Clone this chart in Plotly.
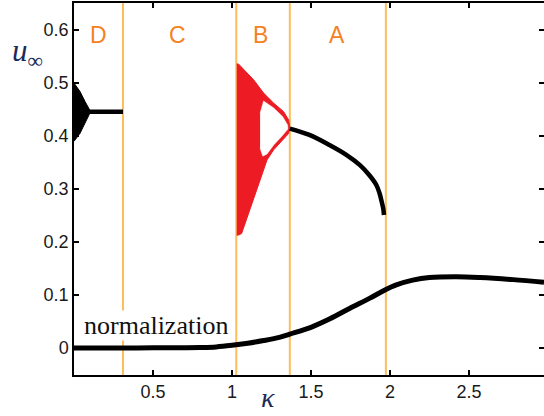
import plotly.graph_objects as go

# ---- data ----
# normalization curve (lower black curve)
norm_x = [0.0, 0.2, 0.4, 0.6, 0.8, 0.9, 1.0, 1.1, 1.2, 1.3, 1.366, 1.5, 1.62, 1.747, 1.873,
          1.965, 2.04, 2.144, 2.25, 2.42, 2.57, 2.78, 2.975]
norm_y = [0.0, 0.0, 0.0, 0.0005, 0.001, 0.002, 0.005, 0.009, 0.014, 0.020, 0.026, 0.039, 0.055,
          0.075, 0.094, 0.109, 0.119, 0.128, 0.133, 0.1345, 0.133, 0.129, 0.124]

# region D: oscillation envelope that collapses into a fixed point
d_env_x = [0.0, 0.038, 0.07, 0.097, 0.105, 0.097, 0.07, 0.038, 0.0]
d_env_y = [0.50, 0.484, 0.465, 0.450, 0.446, 0.441, 0.424, 0.405, 0.39]
d_fixed_x = [0.10, 0.31]
d_fixed_y = [0.446, 0.446]

# region B: chaotic band (red) outer boundary
b_outer_x = [1.03, 1.041, 1.137, 1.2, 1.264, 1.327, 1.359, 1.366, 1.359, 1.317, 1.264,
             1.222, 1.19, 1.158, 1.11, 1.061, 1.041, 1.03]
b_outer_y = [0.536, 0.536, 0.506, 0.481, 0.462, 0.446, 0.430, 0.415, 0.405, 0.392, 0.374,
             0.355, 0.328, 0.300, 0.258, 0.216, 0.213, 0.213]
# region B: empty window inside the band
b_hole_x = [1.178, 1.2, 1.264, 1.32, 1.352, 1.354, 1.317, 1.264, 1.222, 1.195, 1.178]
b_hole_y = [0.443, 0.466, 0.453, 0.437, 0.421, 0.413, 0.400, 0.383, 0.366, 0.362, 0.377]

# region A: stable branch
a_x = [1.366, 1.49, 1.617, 1.726, 1.81, 1.87, 1.913, 1.934, 1.95, 1.958, 1.962]
a_y = [0.414, 0.402, 0.383, 0.364, 0.345, 0.326, 0.308, 0.292, 0.273, 0.262, 0.251]

# region boundaries and labels
bounds = [0.31, 1.027, 1.366, 1.974]
region_labels = ["D", "C", "B", "A"]
region_label_x = [0.158, 0.658, 1.18, 1.665]

x_ticks = [0.5, 1.0, 1.5, 2.0, 2.5]
x_tick_text = ["0.5", "1", "1.5", "2", "2.5"]
y_ticks = [0.0, 0.1, 0.2, 0.3, 0.4, 0.5, 0.6]
y_tick_text = ["0", "0.1", "0.2", "0.3", "0.4", "0.5", "0.6"]

X_RANGE = [0.0, 2.975]
Y_RANGE = [-0.051, 0.651]

ORANGE_LINE = "#FDBE5A"
ORANGE_TEXT = "#F5821F"
NAVY = "#1B2A57"
RED = "#ED1C24"

fig = go.Figure()

# region D
fig.add_trace(go.Scatter(x=d_env_x, y=d_env_y, fill="toself", fillcolor="black",
                         mode="lines", line=dict(color="black", width=1),
                         hoverinfo="skip", showlegend=False))
fig.add_trace(go.Scatter(x=d_fixed_x, y=d_fixed_y, mode="lines",
                         line=dict(color="black", width=4.5),
                         hoverinfo="skip", showlegend=False))
# region B
fig.add_trace(go.Scatter(x=b_outer_x, y=b_outer_y, fill="toself", fillcolor=RED,
                         mode="lines", line=dict(color=RED, width=1),
                         hoverinfo="skip", showlegend=False))
fig.add_trace(go.Scatter(x=b_hole_x, y=b_hole_y, fill="toself", fillcolor="white",
                         mode="lines", line=dict(color="white", width=0.5),
                         hoverinfo="skip", showlegend=False))
# region A
fig.add_trace(go.Scatter(x=a_x, y=a_y, mode="lines", line=dict(color="black", width=4.5, shape="spline"),
                         hoverinfo="skip", showlegend=False))
# normalization curve
fig.add_trace(go.Scatter(x=norm_x, y=norm_y, mode="lines",
                         line=dict(color="black", width=5, shape="spline"),
                         hoverinfo="skip", showlegend=False))
# dummy trace for mirrored right ticks
fig.add_trace(go.Scatter(x=[None], y=[None], yaxis="y2", hoverinfo="skip", showlegend=False))

for b in bounds:
    fig.add_shape(type="line", x0=b, x1=b, xref="x", y0=0, y1=1, yref="paper",
                  line=dict(color=ORANGE_LINE, width=2), layer="below")

for lab, lx in zip(region_labels, region_label_x):
    fig.add_annotation(x=lx, y=0.59, xref="x", yref="y", text=lab, showarrow=False,
                       xanchor="center", yanchor="middle",
                       font=dict(family="Liberation Sans, Arial", size=23, color=ORANGE_TEXT))

fig.add_annotation(x=0.522, y=0.0415, xref="x", yref="y", text="normalization",
                   showarrow=False, bgcolor="white", borderpad=0,
                   xanchor="center", yanchor="middle",
                   font=dict(family="Liberation Serif, Times New Roman", size=26, color="#111111"))

fig.add_annotation(x=-0.1, y=0.865, xref="paper", yref="paper",
                   text="<i>u</i><sub>∞</sub>", showarrow=False,
                   xanchor="center", yanchor="middle",
                   font=dict(family="Liberation Serif, Times New Roman", size=31, color=NAVY))
fig.add_annotation(x=1.228, y=-0.1075, xref="x", yref="paper", text="<i>κ</i>",
                   showarrow=False, xanchor="center", yanchor="bottom",
                   font=dict(family="Liberation Serif, Times New Roman", size=28, color=NAVY))

axis_font = dict(family="Liberation Sans, Arial", size=18, color="#1a1a1a")

fig.update_layout(
    width=544, height=416,
    margin=dict(l=74, r=0, t=3, b=41),
    paper_bgcolor="white", plot_bgcolor="white",
    xaxis=dict(range=X_RANGE, tickvals=x_ticks, ticktext=x_tick_text,
               ticks="inside", ticklen=5, tickwidth=1.5, tickcolor="black",
               showline=True, linecolor="black", linewidth=1.5, mirror="ticks",
               showgrid=False, zeroline=False, tickfont=axis_font),
    yaxis=dict(range=Y_RANGE, tickvals=y_ticks, ticktext=y_tick_text,
               ticks="inside", ticklen=5, tickwidth=1.5, tickcolor="black",
               showline=True, linecolor="black", linewidth=1.5, mirror=False,
               showgrid=False, zeroline=False, tickfont=axis_font),
    yaxis2=dict(range=Y_RANGE, tickvals=y_ticks, overlaying="y", side="right",
                ticks="inside", ticklen=5, tickwidth=1.5, tickcolor="black",
                showline=False, showticklabels=False, showgrid=False, zeroline=False),
)

fig.write_html("out.html")
